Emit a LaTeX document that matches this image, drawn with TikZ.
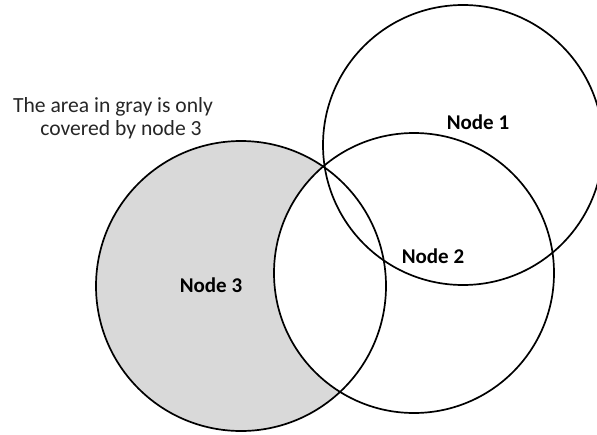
\documentclass[tikz,border=0pt]{standalone}
\usepackage{fontspec}
\setmainfont{Carlito}
\begin{document}
\begin{tikzpicture}[x=1pt,y=-1pt,
  ring/.style={circle,draw=black,line width=1.7pt,inner sep=0pt,outer sep=0pt},
  lbl/.style={font=\fontsize{21}{23}\selectfont\bfseries,inner sep=0pt},
  note/.style={font=\fontsize{21.6}{23}\selectfont,align=center,inner sep=0pt,text=black!85}]
  \useasboundingbox (0,0) rectangle (597,434);
  \clip (0,0) rectangle (597,434);
  % shaded part of the third disc that lies outside the second one
  \begin{scope}
    \clip (241,286) circle[radius=145pt];
    \fill[gray!30,even odd rule] (241,286) circle[radius=145pt] (414,273) circle[radius=140pt];
  \end{scope}
  % coverage circles
  \node[ring,minimum size=280pt] (c1) at (463,145) {};
  \node[ring,minimum size=280pt] (c2) at (414,273) {};
  \node[ring,minimum size=290pt] (c3) at (241,286) {};
  % labels
  \node[lbl] (l1) at (478,122) {Node 1};
  \node[lbl] (l2) at (433,256) {Node 2};
  \node[lbl] (l3) at (211,285) {Node 3};
  \node[note,anchor=base] (txt) at (113,135) {The area in gray is only\\\hspace*{16pt}covered by node 3};
\end{tikzpicture}
\end{document}
